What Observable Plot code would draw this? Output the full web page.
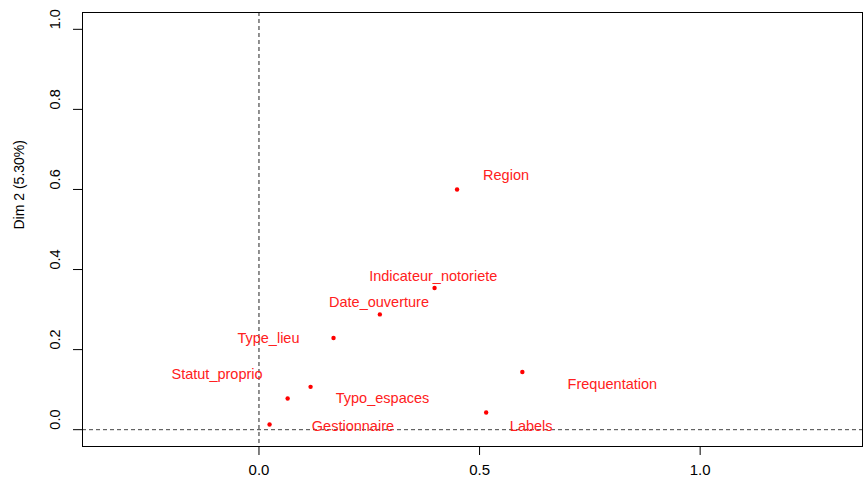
<!DOCTYPE html>
<html>
<head>
<meta charset="utf-8">
<script src="https://cdn.jsdelivr.net/npm/d3@7"></script>
<script src="https://cdn.jsdelivr.net/npm/@observablehq/plot@0.6"></script>
<style>
  html, body { margin: 0; padding: 0; background: #fff; }
  #chart svg { display: block; }
</style>
</head>
<body>
<div id="chart"></div>
<script>
// Variables (FactoMineR-style variables representation)
const varNames = ["Region", "Indicateur_notoriete", "Date_ouverture", "Type_lieu", "Typo_espaces", "Statut_proprio", "Gestionnaire", "Labels", "Frequentation"];
const dim1 = [0.449, 0.398, 0.274, 0.169, 0.117, 0.065, 0.024, 0.515, 0.597];
const dim2 = [0.600, 0.354, 0.288, 0.229, 0.107, 0.078, 0.013, 0.043, 0.144];
// label anchor positions (data units, as placed by the original repel)
const labelDim1 = [0.560, 0.395, 0.272, 0.0215, 0.280, -0.095, 0.213, 0.617, 0.801];
const labelDim2 = [0.634, 0.384, 0.318, 0.227, 0.078, 0.137, 0.009, 0.009, 0.114];

const xTicks = [0, 0.5, 1];
const yTicks = [0, 0.2, 0.4, 0.6, 0.8, 1.0];
const yTitle = "Dim 2 (5.30%)";

const points = varNames.map((name, i) => ({name, x: dim1[i], y: dim2[i], lx: labelDim1[i], ly: labelDim2[i]}));
const fmt = d3.format(".1f");
const FS = 14.5;

const chart = Plot.plot({
  width: 863,
  height: 479,
  marginLeft: 82,
  marginRight: 1,
  marginTop: 12,
  marginBottom: 33,
  style: {fontFamily: "'Liberation Sans', Arial, sans-serif", fontSize: FS + "px", background: "#fff", color: "#000"},
  x: {domain: [-0.4, 1.368]},
  y: {domain: [-0.042, 1.042]},
  marks: [
    Plot.ruleX([0], {stroke: "#222", strokeDasharray: "4,3", strokeWidth: 1}),
    Plot.ruleY([0], {stroke: "#444", strokeDasharray: "4,3", strokeWidth: 1}),
    Plot.frame({stroke: "#000", strokeWidth: 1}),
    Plot.axisX({ticks: xTicks, tickSize: 9, tickPadding: 9, tickFormat: fmt, fontSize: 15, label: null}),
    Plot.axisY({ticks: yTicks, tickSize: 9, tickFormat: () => "", label: null}),
    Plot.text(yTicks, {y: d => d, frameAnchor: "left", dx: -27, rotate: -90, text: d => fmt(d), fontSize: FS, fill: "#000"}),
    Plot.text([yTitle], {frameAnchor: "left", dx: -63, rotate: -90, text: d => d, fontSize: FS - 0.5, fill: "#000"}),
    Plot.dot(points, {x: "x", y: "y", r: 2.2, fill: "red", stroke: "none"}),
    Plot.text(points, {x: "lx", y: "ly", text: "name", fill: "#ff2020", fontSize: FS})
  ]
});
document.getElementById("chart").appendChild(chart);
</script>
</body>
</html>
